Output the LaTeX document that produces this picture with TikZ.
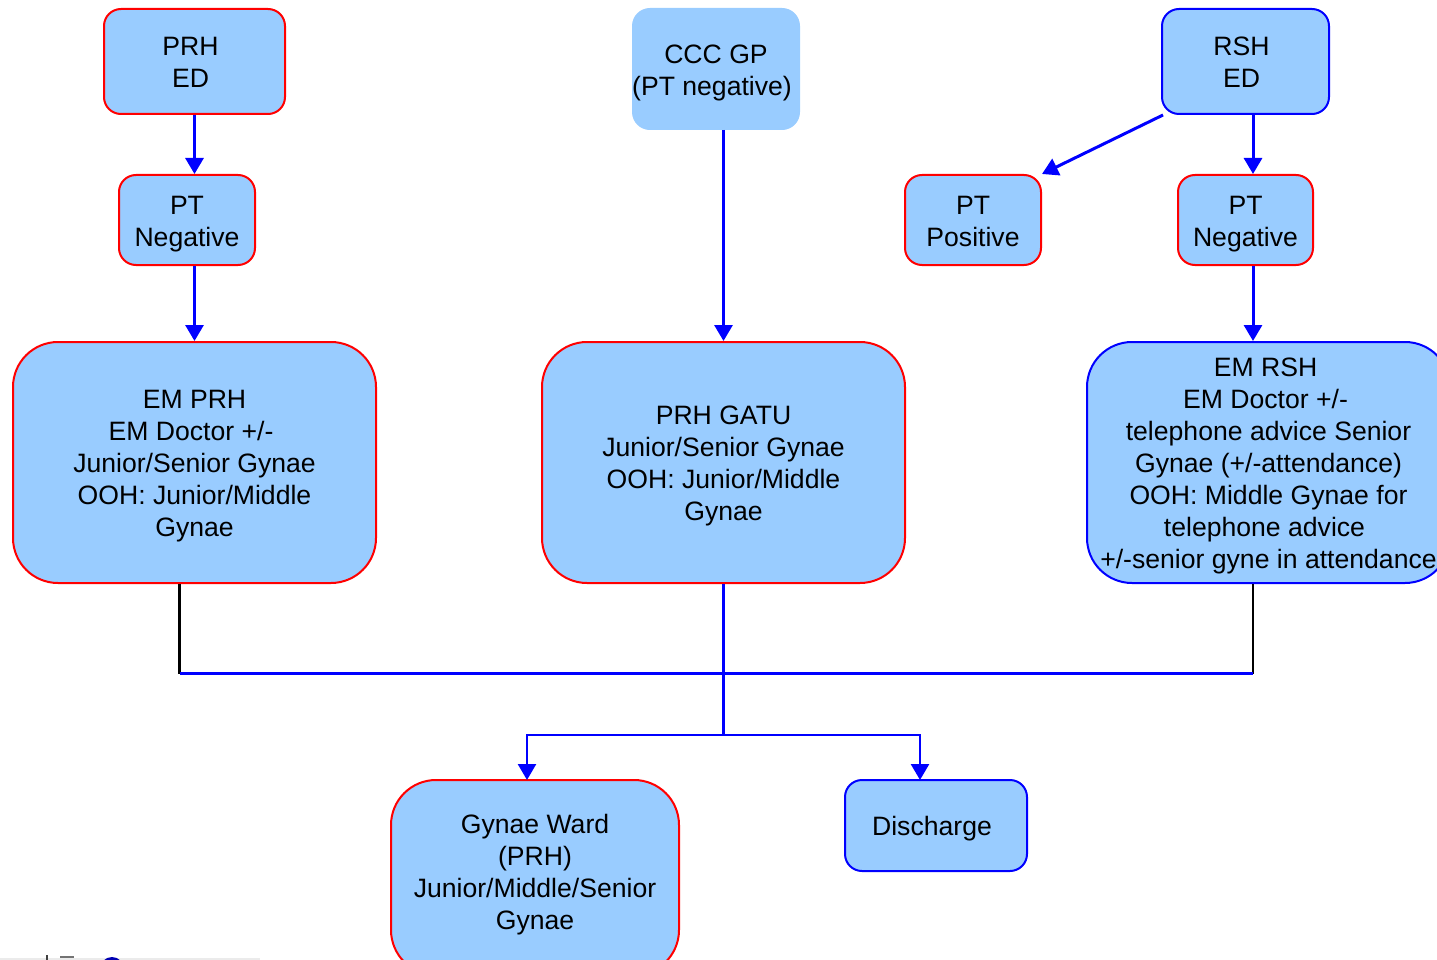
\documentclass[tikz,border=0pt]{standalone}
\usepackage{fontspec}
\setmainfont{Liberation Sans}
\usetikzlibrary{arrows.meta,calc}
\newcommand{\mv}[3]{\raisebox{\dimexpr-#2pt-10pt\relax}[0pt][0pt]{\makebox[0pt]{\hspace{\dimexpr 2\dimexpr #1pt\relax\relax}\begin{tabular}[c]{@{}c@{}}#3\end{tabular}}}}
\definecolor{boxfill}{HTML}{99CCFF}
\tikzset{
 x=1pt,y=-1pt,
 box/.style={draw=#1,fill=boxfill,line width=2pt,rectangle,inner sep=0pt,text=black,font=\fontsize{26.6}{32}\selectfont},
 small/.style={rounded corners=17pt},
 big/.style={rounded corners=45pt},
 conn/.style={draw=blue,line width=3pt},
 arr/.style={conn,-{Triangle[length=16pt,width=18pt]}},
 thinarr/.style={arr,line width=2.6pt},
 blk/.style={draw=black,line width=3pt},
}
\newcommand{\bx}[8]{\node[box=#2,#3,minimum width=#6pt-#5pt,minimum height=#8pt-#7pt] (#1) at ({(#5+#6)/2},{(#7+#8)/2}) {#4};}
\begin{document}
\begin{tikzpicture}
\useasboundingbox (0,0) rectangle (1437,960);
% cut-off marks at the bottom edge of the reference
\fill[black!8] (0,958) rectangle (260,960);
\fill[blue!70!black] (112,969) circle[radius=12];
\draw[black!75,line width=1.5pt] (47,955) -- (47,960);
\draw[black!55,line width=1.5pt] (60,957) -- (74,957);
\bx{prhed}{red}{small}{\mv{-4}{0}{PRH\\ED}}{104}{285}{9}{114}
\bx{ptnegl}{red}{small}{\mv{0}{0}{PT\\Negative}}{119}{255}{175}{265}
\bx{emprh}{red}{big}{\mv{0}{0}{EM PRH\\EM Doctor +/-\kern7pt\\Junior/Senior Gynae\\OOH: Junior/Middle\\Gynae}}{13}{376}{342}{583}
\node[box=boxfill,small,minimum width=166pt,minimum height=120pt] (ccc) at (716,69) {\mv{-4}{0}{\kern8pt CCC GP\\(PT negative)}};
\bx{gatu}{red}{big}{\mv{0}{0}{PRH GATU\\Junior/Senior Gynae\\OOH: Junior/Middle\\Gynae}}{542}{905}{342}{583}
\bx{rshed}{blue}{small}{\mv{-4}{0}{RSH\\ED}}{1162}{1329}{9}{114}
\bx{ptpos}{red}{small}{\mv{0}{0}{PT\\Positive}}{905}{1041}{175}{265}
\bx{ptnegr}{red}{small}{\mv{0}{0}{PT\\Negative}}{1178}{1313}{175}{265}
\bx{emrsh}{blue}{big}{\mv{0}{0}{EM RSH\kern6pt\\EM Doctor +/-\kern6pt\\telephone advice Senior\\Gynae (+/-attendance)\\OOH: Middle Gynae for\\telephone advice\kern8pt\\+/-senior gyne in attendance}}{1087}{1450}{342}{583}
\bx{ward}{red}{big}{\mv{0}{-6}{Gynae Ward\\(PRH)\\Junior/Middle/Senior\\Gynae}}{391}{679}{780}{975}
\bx{disch}{blue}{small}{\mv{-4}{0}{Discharge}}{845}{1027}{780}{871}
% connector coordinates
\coordinate (rx) at (1253,0);
\coordinate (lx) at (179.5,0);
\coordinate (cx) at (723.5,0);
\coordinate (trunk) at (723.5,673.5);
\coordinate (split) at (723.5,735);
\coordinate (rsl) at (1163,115);
\coordinate (wardin) at (527,780);
\coordinate (dischin) at (920,780);
\draw[arr] (prhed.south) -- (prhed.south |- ptnegl.north);
\draw[arr] (prhed.south |- ptnegl.south) -- (emprh.north);
\draw[arr] (ccc.south -| gatu.north) -- (gatu.north);
\draw[arr] (rx |- rshed.south) -- (rx |- ptnegr.north);
\draw[arr] (rx |- ptnegr.south) -- (rx |- emrsh.north);
\draw[arr] (rsl) -- (ptpos.north east);
\draw[blk] (lx |- emprh.south) -- (lx |- trunk);
\draw[blk,line width=2.2pt] (rx |- emrsh.south) -- (rx |- trunk);
\draw[conn] (lx |- trunk) -- (rx |- trunk);
\draw[conn] (cx |- gatu.south) -- (split);
\draw[thinarr] (split) -| (wardin);
\draw[thinarr] (split) -| (dischin);
\end{tikzpicture}
\end{document}
